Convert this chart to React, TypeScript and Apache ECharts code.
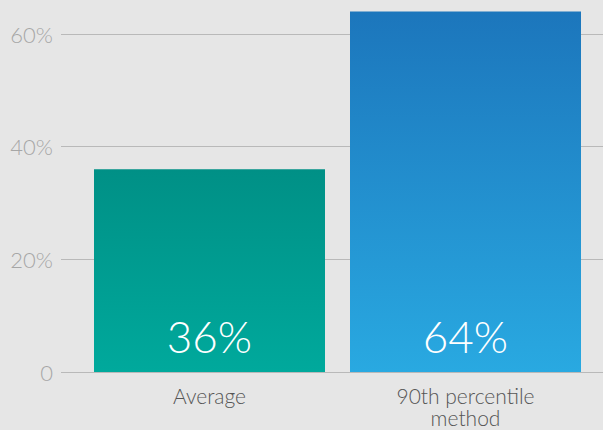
import React, { useEffect, useRef } from "react";
import * as echarts from "echarts";

const categories = ["Average", "90th percentile\nmethod"];
const values = [36, 64];
const topColors = ["#009086", "#1c76bc"];
const bottomColors = ["#00a99c", "#29a9e1"];
const yMin = 0;
const yMax = 60;
const yInterval = 20;

export default function App() {
  const ref = useRef<HTMLDivElement>(null);
  useEffect(() => {
    if (!ref.current) return;
    const chart = echarts.init(ref.current, null, { renderer: "svg" });
    const font = "Lato, 'Open Sans', sans-serif";
    chart.setOption({
      animation: false,
      backgroundColor: "#e6e6e6",
      grid: [
        { left: 61, right: 0, top: 34, bottom: 58, outerBoundsMode: "none" },
        { left: 81.5, right: 9.5, top: 34, bottom: 58, outerBoundsMode: "none" },
      ],
      xAxis: [
        { type: "category", gridIndex: 0, data: categories, show: false },
        {
          type: "category",
          gridIndex: 1,
          data: categories,
          axisLine: { show: false },
          axisTick: { show: false },
          axisLabel: {
            color: "#555555",
            fontSize: 21,
            fontFamily: font,
            fontWeight: 300,
            lineHeight: 22,
            margin: 12,
          },
        },
      ],
      yAxis: [
        {
          type: "value",
          gridIndex: 0,
          min: yMin,
          max: yMax,
          interval: yInterval,
          axisLine: { show: false },
          axisTick: { show: false },
          splitLine: { lineStyle: { color: "#b9b9b9", width: 1 } },
          axisLabel: {
            color: "#a6a6a6",
            fontSize: 22,
            fontFamily: font,
            fontWeight: 300,
            margin: 8,
            formatter: (v: number) => (v === 0 ? "0" : v + "%"),
          },
        },
        {
          type: "value",
          gridIndex: 1,
          min: yMin,
          max: yMax,
          interval: yInterval,
          show: false,
          splitLine: { show: false },
        },
      ],
      series: [
        {
          type: "bar",
          xAxisIndex: 1,
          yAxisIndex: 1,
          barWidth: 231,
          clip: false,
          data: values.map((v, i) => ({
            value: v,
            itemStyle: {
              color: new echarts.graphic.LinearGradient(0, 0, 0, 1, [
                { offset: 0, color: topColors[i] },
                { offset: 1, color: bottomColors[i] },
              ]),
            },
          })),
          label: {
            show: true,
            position: "insideBottom",
            distance: 14,
            formatter: "{c}%",
            color: "#ffffff",
            fontSize: 44,
            fontFamily: font,
            fontWeight: 300,
          },
        },
      ],
    });
    return () => chart.dispose();
  }, []);
  return (
    <div
      ref={ref}
      style={{ position: "fixed", left: 0, top: 0, width: 603, height: 430 }}
    />
  );
}
